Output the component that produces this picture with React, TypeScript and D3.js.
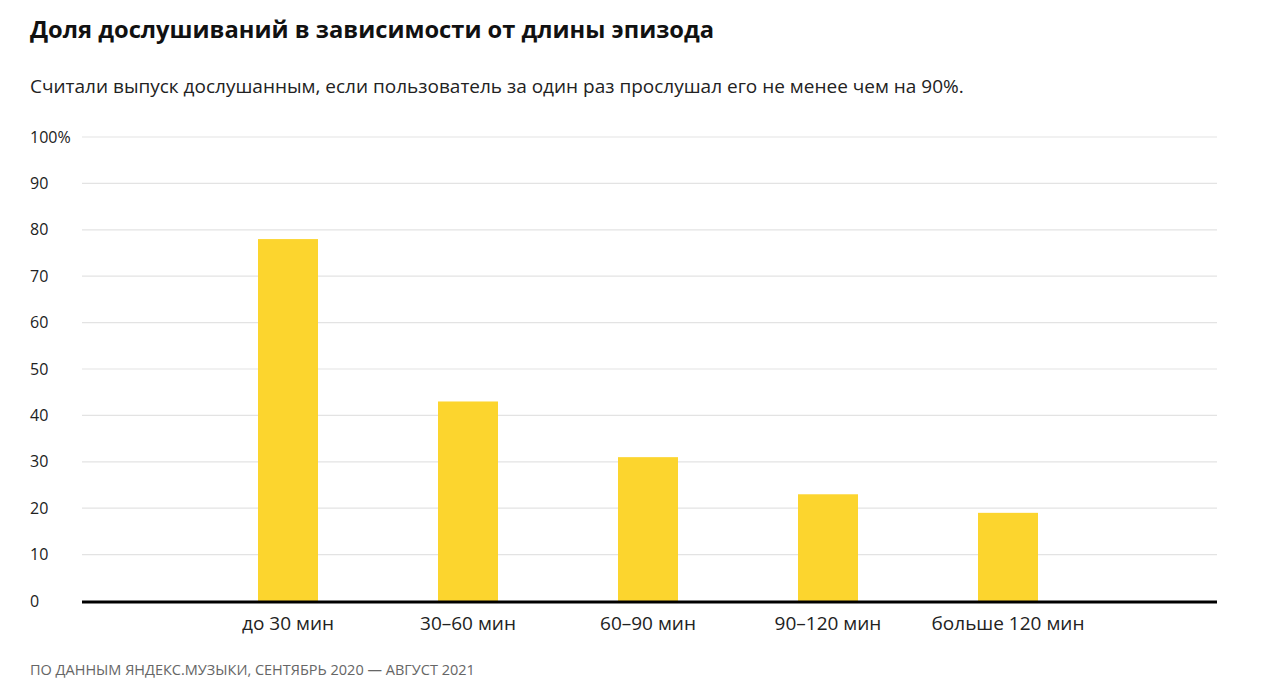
import { useEffect, useRef } from 'react';
import * as d3 from 'd3';

const categories = ['до 30 мин', '30–60 мин', '60–90 мин', '90–120 мин', 'больше 120 мин'];
const shares = [78, 43, 31, 23, 19];
const yTicks = [0, 10, 20, 30, 40, 50, 60, 70, 80, 90, 100];

const title = 'Доля дослушиваний в зависимости от длины эпизода';
const subtitle = 'Считали выпуск дослушанным, если пользователь за один раз прослушал его не менее чем на 90%.';
const source = 'ПО ДАННЫМ ЯНДЕКС.МУЗЫКИ, СЕНТЯБРЬ 2020 — АВГУСТ 2021';

export default function App() {
  const ref = useRef<SVGSVGElement | null>(null);

  useEffect(() => {
    const svg = d3.select(ref.current);
    svg.selectAll('*').remove();
    const font = '"Open Sans", "Noto Sans", sans-serif';

    const y = d3.scaleLinear().domain([0, 100]).range([601, 137]);
    const x = d3
      .scaleBand()
      .domain(categories)
      .range([198, 1098])
      .paddingInner(2 / 3)
      .paddingOuter(1 / 3);

    svg
      .append('text')
      .attr('x', 30)
      .attr('y', 38)
      .attr('font-family', font)
      .attr('font-size', 23.7)
      .attr('font-weight', 700)
      .attr('fill', '#111')
      .text(title);

    svg
      .append('text')
      .attr('x', 30)
      .attr('y', 93)
      .attr('font-family', font)
      .attr('font-size', 19)
      .attr('fill', '#222')
      .text(subtitle);

    // gridlines
    svg
      .append('g')
      .selectAll('line')
      .data(yTicks.filter((t) => t > 0))
      .enter()
      .append('line')
      .attr('x1', 82)
      .attr('x2', 1217)
      .attr('y1', (d) => y(d))
      .attr('y2', (d) => y(d))
      .attr('stroke', '#e3e3e3')
      .attr('stroke-width', 1.2);

    svg
      .append('g')
      .selectAll('text')
      .data(yTicks)
      .enter()
      .append('text')
      .attr('x', 30)
      .attr('y', (d) => y(d))
      .attr('dy', '0.35em')
      .attr('font-family', font)
      .attr('font-size', 16)
      .attr('fill', '#222')
      .text((d) => (d === 100 ? '100%' : String(d)));

    // bars
    svg
      .append('g')
      .selectAll('rect')
      .data(shares)
      .enter()
      .append('rect')
      .attr('x', (_d, i) => x(categories[i])!)
      .attr('y', (d) => y(d))
      .attr('width', x.bandwidth())
      .attr('height', (d) => y(0) - y(d))
      .attr('fill', '#fcd52e');

    // baseline
    svg
      .append('line')
      .attr('x1', 82)
      .attr('x2', 1217)
      .attr('y1', y(0) + 1)
      .attr('y2', y(0) + 1)
      .attr('stroke', '#000')
      .attr('stroke-width', 3);

    svg
      .append('g')
      .selectAll('text')
      .data(categories)
      .enter()
      .append('text')
      .attr('x', (d) => x(d)! + x.bandwidth() / 2)
      .attr('y', 623)
      .attr('dy', '0.35em')
      .attr('text-anchor', 'middle')
      .attr('font-family', font)
      .attr('font-size', 19)
      .attr('fill', '#222')
      .text((d) => d);

    svg
      .append('text')
      .attr('x', 30)
      .attr('y', 670)
      .attr('dy', '0.35em')
      .attr('font-family', font)
      .attr('font-size', 14.5)
      .attr('fill', '#666')
      .text(source);
  }, []);

  return (
    <svg
      ref={ref}
      width={1280}
      height={700}
      style={{ position: 'absolute', left: 0, top: 0, background: '#fff' }}
    />
  );
}
